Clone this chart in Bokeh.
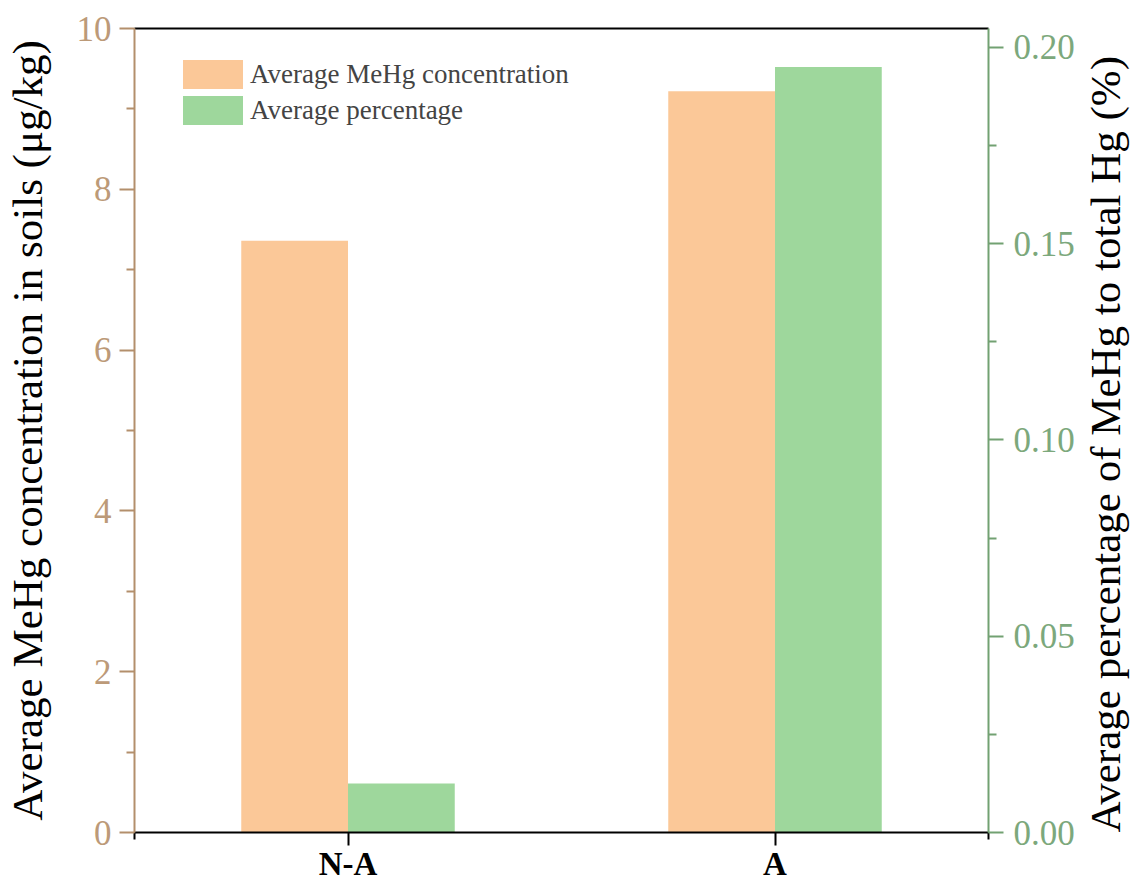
import math
from bokeh.plotting import figure
from bokeh.models import (Range1d, LinearAxis, FixedTicker, Legend, LegendItem,
                          NumeralTickFormatter)
from bokeh.embed import file_html
from bokeh.resources import INLINE

categories = ["N-A", "A"]
mehg_conc = [7.36, 9.22]        # µg/kg, left axis
mehg_pct = [0.0125, 0.195]      # %, right axis
left_ticks = [0, 2, 4, 6, 8, 10]
right_ticks = [0, 0.05, 0.10, 0.15, 0.20]

cat_pos = [0.5, 1.5]
bar_w = 0.25
orange = "#FBC898"
green = "#9ED79C"
tan_line = "#B38F6C"
tan_text = "#BC9A78"
grn_line = "#72A172"
grn_text = "#7CA87C"
FONT = "'Liberation Serif', 'Times New Roman', serif"
FW, FH = 854, 804

p = figure(frame_width=FW, frame_height=FH,
           x_range=Range1d(0, 2), y_range=Range1d(0, 10),
           output_backend="svg", toolbar_location=None,
           min_border_left=133, min_border_right=145, min_border_top=28, min_border_bottom=40)
p.extra_y_ranges = {"pct": Range1d(0, 0.2048)}
p.grid.visible = False
p.outline_line_color = None
p.background_fill_color = "white"

r1 = p.vbar(x=[c - bar_w / 2 for c in cat_pos], top=mehg_conc, width=bar_w, bottom=0,
            fill_color=orange, line_color=None)
r2 = p.vbar(x=[c + bar_w / 2 for c in cat_pos], top=mehg_pct, width=bar_w, bottom=0,
            fill_color=green, line_color=None, y_range_name="pct")

# bottom axis
xa = p.xaxis[0]
xa.ticker = FixedTicker(ticks=cat_pos, minor_ticks=[0, 2])
xa.major_label_overrides = {0.5: categories[0], 1.5: categories[1]}
xa.major_label_text_font = FONT
xa.major_label_text_font_style = "bold"
xa.major_label_text_font_size = "33px"
xa.major_label_text_color = "black"
xa.axis_line_color = "black"
xa.axis_line_width = 2
xa.major_tick_line_width = 2
xa.minor_tick_line_width = 2
xa.major_tick_in = 0
xa.major_tick_out = 13
xa.minor_tick_in = 0
xa.minor_tick_out = 7
xa.major_label_standoff = 0

# left axis
ya = p.yaxis[0]
ya.ticker = FixedTicker(ticks=left_ticks, minor_ticks=[1, 3, 5, 7, 9])
ya.axis_label = "Average MeHg concentration in soils (μg/kg)"
ya.axis_label_text_font = FONT
ya.axis_label_text_font_style = "normal"
ya.axis_label_text_font_size = "43px"
ya.axis_label_text_color = "black"
ya.axis_label_standoff = 23
ya.major_label_text_font = FONT
ya.major_label_text_font_size = "35px"
ya.major_label_text_color = tan_text
ya.axis_line_color = tan_line
ya.axis_line_width = 2
ya.major_tick_line_color = tan_line
ya.minor_tick_line_color = tan_line
ya.major_tick_line_width = 2
ya.minor_tick_line_width = 2
ya.major_tick_in = 0
ya.major_tick_out = 15
ya.minor_tick_in = 0
ya.minor_tick_out = 8
ya.major_label_standoff = 8

# right axis
yr = LinearAxis(y_range_name="pct")
yr.ticker = FixedTicker(ticks=right_ticks, minor_ticks=[0.025, 0.075, 0.125, 0.175])
yr.formatter = NumeralTickFormatter(format="0.00")
yr.axis_label = "Average percentage of MeHg to total Hg (%)"
yr.axis_label_orientation = math.pi / 2
yr.axis_label_align = "start"
yr.axis_label_text_font = FONT
yr.axis_label_text_font_style = "normal"
yr.axis_label_text_font_size = "43px"
yr.axis_label_text_color = "black"
yr.axis_label_standoff = 28
yr.major_label_text_font = FONT
yr.major_label_text_font_size = "35px"
yr.major_label_text_color = grn_text
yr.axis_line_color = grn_line
yr.axis_line_width = 2
yr.major_tick_line_color = grn_line
yr.minor_tick_line_color = grn_line
yr.major_tick_line_width = 2
yr.minor_tick_line_width = 2
yr.major_tick_in = 0
yr.major_tick_out = 15
yr.minor_tick_in = 0
yr.minor_tick_out = 8
yr.major_label_standoff = 10
p.add_layout(yr, "right")

# top border line
ta = LinearAxis(ticker=FixedTicker(ticks=[]))
ta.major_label_text_font_size = "0px"
ta.axis_line_color = "black"
ta.axis_line_width = 2
ta.major_tick_line_color = None
ta.minor_tick_line_color = None
p.add_layout(ta, "above")

legend = Legend(items=[LegendItem(label="Average MeHg concentration", renderers=[r1]),
                       LegendItem(label="Average percentage", renderers=[r2])],
                location=(41, FH - 30 - 70))
legend.glyph_width = 75
legend.glyph_height = 36
legend.label_height = 36
legend.spacing = -2
legend.padding = 0
legend.margin = 0
legend.border_line_color = None
legend.background_fill_alpha = 0
legend.label_text_font = FONT
legend.label_text_font_size = "27px"
legend.label_standoff = 0
p.add_layout(legend)

open("out.html", "w").write(file_html(p, INLINE))
